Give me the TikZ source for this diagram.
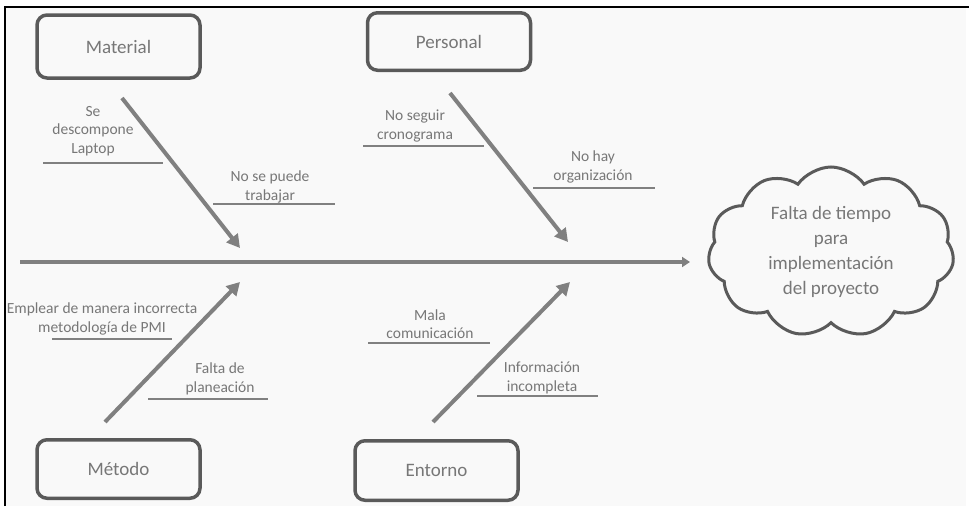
\documentclass[tikz,border=0pt]{standalone}
\usepackage{fontspec}
\setmainfont{Carlito}
\usetikzlibrary{arrows.meta,shapes.symbols}
\definecolor{boxgray}{HTML}{5A5A5A}
\definecolor{txtgray}{HTML}{777777}
\definecolor{arrgray}{HTML}{808080}
\definecolor{bgcol}{HTML}{F9F9F9}
\begin{document}
\begin{tikzpicture}[x=1pt,y=-1pt,
  catbox/.style={draw=boxgray, line width=3.5pt, rounded corners=10pt, minimum width=163pt, text=txtgray, font=\fontsize{19}{22}\selectfont, inner sep=0pt},
  sublabel/.style={text=txtgray, font=\fontsize{15.5}{18.5}\selectfont, align=center, inner sep=0pt},
  subline/.style={draw=arrgray, line width=2pt},
  causearrow/.style={draw=arrgray, line width=4pt, -{Triangle[length=13pt,width=14pt]}},
  spinearrow/.style={draw=arrgray, line width=4.5pt, -{Triangle[length=8pt,width=10pt]}},
  effect/.style={cloud, draw=boxgray, line width=3pt, cloud puffs=11, cloud puff arc=110, aspect=1.43, minimum width=246pt, minimum height=170pt, inner sep=0pt, text=txtgray, align=center, font=\fontsize{19}{25}\selectfont}
]
\useasboundingbox (0,0) rectangle (969,506);
\fill[bgcol] (5,7) rectangle (966,506);
\draw[black, line width=1.5pt] (5,506) -- (5,7) -- (969,7);

% category boxes
\node[catbox, minimum height=63pt] (material) at (118.5,46.5) {Material};
\node[catbox, minimum height=57.5pt] (personal) at (449,41.5) {Personal};
\node[catbox, minimum height=58.5pt] (metodo) at (118.5,469) {Método};
\node[catbox, minimum height=59.5pt] (entorno) at (436.5,470.5) {Entorno};

% effect
\node[effect] (efecto) at (831,252) {Falta de tiempo\\para\\implementación\\del proyecto};

% spine
\coordinate (s1) at (20,262);
\coordinate (s2) at (690,262);
\draw[spinearrow] (s1) -- (s2);

% cause arrows
\coordinate (m1) at (122,98);  \coordinate (m2) at (240,248);
\coordinate (p1) at (450,93);  \coordinate (p2) at (568,242);
\coordinate (t1) at (105,422); \coordinate (t2) at (240,282);
\coordinate (e1) at (433,422); \coordinate (e2) at (570,282);
\draw[causearrow] (m1) -- (m2);
\draw[causearrow] (p1) -- (p2);
\draw[causearrow] (t1) -- (t2);
\draw[causearrow] (e1) -- (e2);

% sub causes
\node[sublabel] (c1) at (93,131) {Se\\descompone\\Laptop};
\coordinate (c1a) at (43,163); \coordinate (c1b) at (163,163);
\draw[subline] (c1a) -- (c1b);

\node[sublabel] (c2) at (270,187) {No se puede\\trabajar};
\coordinate (c2a) at (213,204); \coordinate (c2b) at (335,204);
\draw[subline] (c2a) -- (c2b);

\node[sublabel] (c3) at (415,126) {No seguir\\cronograma};
\coordinate (c3a) at (363,146); \coordinate (c3b) at (484,146);
\draw[subline] (c3a) -- (c3b);

\node[sublabel] (c4) at (593,167) {No hay\\organización};
\coordinate (c4a) at (533,188); \coordinate (c4b) at (655,188);
\draw[subline] (c4a) -- (c4b);

\node[sublabel] (c5) at (102,319) {Emplear de manera incorrecta\\metodología de PMI};
\coordinate (c5a) at (52,339); \coordinate (c5b) at (172,339);
\draw[subline] (c5a) -- (c5b);

\node[sublabel] (c6) at (220,379) {Falta de\\planeación};
\coordinate (c6a) at (148,399); \coordinate (c6b) at (268,399);
\draw[subline] (c6a) -- (c6b);

\node[sublabel] (c7) at (430,324) {Mala\\comunicación};
\coordinate (c7a) at (368,343); \coordinate (c7b) at (490,343);
\draw[subline] (c7a) -- (c7b);

\node[sublabel] (c8) at (542,378) {Información\\incompleta};
\coordinate (c8a) at (477,396); \coordinate (c8b) at (598,396);
\draw[subline] (c8a) -- (c8b);
\end{tikzpicture}
\end{document}
